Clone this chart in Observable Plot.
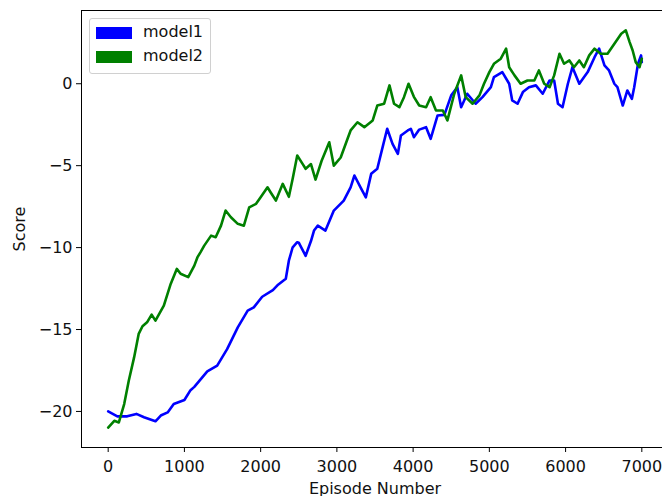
<!DOCTYPE html>
<html>
<head>
<meta charset="utf-8">
<script src="https://cdn.jsdelivr.net/npm/d3@7"></script>
<script src="https://cdn.jsdelivr.net/npm/@observablehq/plot@0.6"></script>
<style>
  html, body { margin: 0; padding: 0; background: #fff; overflow: hidden; }
  #wrap { position: relative; width: 662px; height: 496px; overflow: hidden; }
  #legend { position: absolute; left: 89px; top: 18px; width: 120px; height: 54px;
            border: 1px solid #d0d0d0; border-radius: 3px; background: rgba(255,255,255,0.85);
            font-family: "DejaVu Sans", sans-serif; font-size: 16px; color: #111; }
  .item { position: absolute; left: 0; height: 16px; }
  .sw { position: absolute; left: 6px; width: 36px; height: 12px; }
  .lb { position: absolute; left: 53px; top: -3px; white-space: nowrap; line-height: 16px; }
</style>
</head>
<body>
<div id="wrap"></div>
<script>
const seriesNames = ["model1", "model2"];
const seriesColors = ["#0000ff", "#008000"];

const episodes1 = [0,120,250,370,470,620,690,780,860,1000,1080,1130,1300,1430,1560,1700,1830,1910,2020,2160,2220,2330,2370,2420,2480,2500,2590,2660,2700,2750,2850,2960,3090,3180,3230,3310,3380,3450,3530,3600,3660,3730,3800,3840,3930,3970,4010,4080,4170,4230,4320,4410,4500,4580,4630,4710,4820,4910,5020,5060,5170,5260,5300,5370,5440,5520,5610,5700,5790,5850,5900,5960,6030,6090,6180,6290,6380,6440,6510,6570,6640,6680,6750,6810,6870,6900,6950,6990,7000];
const scores1 = [-20.0,-20.3,-20.3,-20.15,-20.35,-20.6,-20.25,-20.06,-19.55,-19.3,-18.7,-18.5,-17.55,-17.2,-16.2,-14.87,-13.85,-13.65,-13.0,-12.6,-12.3,-11.9,-10.8,-9.98,-9.67,-9.7,-10.5,-9.6,-8.96,-8.66,-8.96,-7.74,-7.13,-6.32,-5.6,-6.32,-6.93,-5.5,-5.19,-3.87,-2.75,-3.67,-4.28,-3.16,-2.85,-2.75,-3.26,-2.8,-2.65,-3.36,-1.94,-1.9,-0.71,-0.21,-1.43,-0.61,-1.22,-0.82,-0.21,0.40,0.71,0,-1.02,-1.22,-0.51,-0.21,-0.1,-0.61,0.2,0.2,-1.22,-1.43,0,1.01,0,0.71,1.62,2.14,1.12,0.81,0,-0.21,-1.33,-0.41,-0.92,-0.21,1.22,1.73,1.32];

const episodes2 = [0,80,140,210,270,340,400,450,510,570,620,730,820,900,950,1050,1130,1170,1210,1260,1350,1410,1480,1540,1610,1700,1780,1850,1940,2000,2090,2130,2200,2290,2370,2420,2480,2550,2590,2660,2720,2800,2900,2960,3050,3140,3180,3270,3360,3470,3530,3620,3690,3750,3820,3880,3940,4010,4080,4170,4230,4300,4390,4450,4540,4630,4690,4780,4870,4930,5000,5060,5150,5220,5260,5330,5410,5500,5590,5650,5720,5790,5850,5920,5980,6050,6110,6180,6240,6310,6380,6460,6550,6640,6730,6790,6840,6880,6920,6970,7000];
const scores2 = [-20.98,-20.57,-20.67,-19.55,-18.13,-16.7,-15.27,-14.8,-14.56,-14.09,-14.46,-13.54,-12.22,-11.3,-11.6,-11.8,-11.1,-10.6,-10.29,-9.88,-9.27,-9.37,-8.66,-7.74,-8.15,-8.55,-8.66,-7.54,-7.33,-6.93,-6.32,-6.62,-7.13,-6.11,-6.9,-5.8,-4.38,-4.89,-5.19,-4.9,-5.85,-4.7,-3.57,-5.0,-4.5,-3.36,-2.85,-2.35,-2.65,-2.24,-1.33,-1.22,-0.1,-1.22,-1.43,-0.82,0,-0.8,-1.33,-1.43,-0.82,-1.63,-1.63,-2.24,-0.61,0.51,-0.82,-1.22,-0.71,0,0.71,1.22,1.53,2.14,1.01,0.51,0,0.2,0.2,0.81,0,-0.21,0.51,1.83,1.22,1.42,1.01,1.42,1.01,1.73,2.14,1.83,1.83,2.44,3.05,3.26,2.54,2.03,1.32,1.01,1.53];

const xTicks = [0,1000,2000,3000,4000,5000,6000,7000];
const yTicks = [0,-5,-10,-15,-20];

const data1 = episodes1.map((e, i) => ({episode: e, score: scores1[i], series: seriesNames[0]}));
const data2 = episodes2.map((e, i) => ({episode: e, score: scores2[i], series: seriesNames[1]}));

const fmt = d3.format("d");
const font = "DejaVu Sans, sans-serif";
const chart = Plot.plot({
  width: 668,
  height: 496,
  marginLeft: 81,
  marginRight: 0,
  marginTop: 10,
  marginBottom: 49,
  style: {fontFamily: font, fontSize: "16px", maxWidth: "none", background: "#fff", color: "#111"},
  x: {domain: [-350, 7350]},
  y: {domain: [-22.2, 4.47]},
  marks: [
    Plot.line(data1, {x: "episode", y: "score", stroke: seriesColors[0], strokeWidth: 2.6, strokeLinejoin: "round"}),
    Plot.line(data2, {x: "episode", y: "score", stroke: seriesColors[1], strokeWidth: 2.6, strokeLinejoin: "round"}),
    Plot.frame({stroke: "#000", strokeWidth: 1}),
    Plot.axisX({ticks: xTicks, tickFormat: fmt, tickSize: 5, tickPadding: 8, fontSize: 16, stroke: "#000",
      label: "Episode Number", labelAnchor: "center", labelArrow: "none", labelOffset: 46}),
    Plot.axisY({ticks: yTicks, tickFormat: fmt, tickSize: 5, tickPadding: 4, fontSize: 16, stroke: "#000",
      label: "Score", labelAnchor: "center", labelArrow: "none", labelOffset: 68})
  ]
});
const wrap = document.getElementById("wrap");
wrap.appendChild(chart);

const legend = document.createElement("div");
legend.id = "legend";
seriesNames.forEach((name, i) => {
  const item = document.createElement("div");
  item.className = "item";
  item.style.top = (8 + i * 24) + "px";
  const sw = document.createElement("div");
  sw.className = "sw";
  sw.style.background = seriesColors[i];
  const lb = document.createElement("div");
  lb.className = "lb";
  lb.textContent = name;
  item.appendChild(sw);
  item.appendChild(lb);
  legend.appendChild(item);
});
wrap.appendChild(legend);
</script>
</body>
</html>
